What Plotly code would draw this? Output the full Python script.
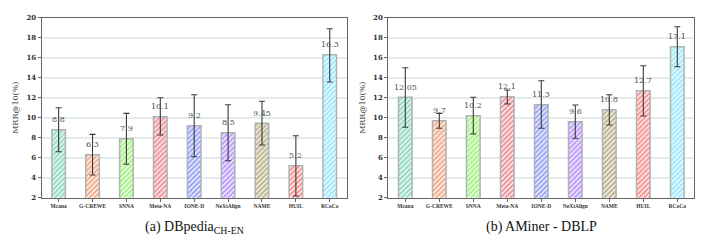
import plotly.graph_objects as go

methods = ["Mcana", "G-CREWE", "SNNA", "Meta-NA", "IONE-D", "NeXtAlign", "NAME", "HUIL", "RCoCo"]
colors = ["#2cb884", "#e85c1c", "#50e810", "#e02a40", "#3a4cf0", "#7a38f8", "#7c6a20", "#f82c2c", "#40d4f8"]

# (a) DBpedia CH-EN
vals_a = [8.8, 6.3, 7.9, 10.1, 9.2, 8.5, 9.45, 5.2, 16.3]
labels_a = ["8.8", "6.3", "7.9", "10.1", "9.2", "8.5", "9.45", "5.2", "16.3"]
upper_a = [11.0, 8.33, 10.43, 12.0, 12.3, 11.3, 11.64, 8.2, 18.9]
lower_a = [6.6, 4.27, 5.34, 8.27, 6.1, 5.7, 7.27, 2.17, 13.57]

# (b) AMiner - DBLP
vals_b = [12.05, 9.7, 10.2, 12.1, 11.3, 9.6, 10.8, 12.7, 17.1]
labels_b = ["12.05", "9.7", "10.2", "12.1", "11.3", "9.6", "10.8", "12.7", "17.1"]
upper_b = [15.0, 10.43, 12.04, 12.77, 13.7, 11.27, 12.3, 15.2, 19.1]
lower_b = [9.04, 8.94, 8.37, 11.37, 8.94, 7.94, 9.27, 10.17, 15.1]

y_ticks = [2, 4, 6, 8, 10, 12, 14, 16, 18, 20]
titles = ["(a) DBpedia<sub>CH-EN</sub>", "(b) AMiner - DBLP"]

W, H = 709, 245
SERIF = "DejaVu Serif"

fig = go.Figure()

panels = [
    (vals_a, labels_a, upper_a, lower_a, "x", "y", (41.7, 346.7)),
    (vals_b, labels_b, upper_b, lower_b, "x2", "y2", (388.3, 694.3)),
]

ytop, ybot = 17.7, 197.7
ydom = [1 - ybot / H, 1 - ytop / H]

for i, (vals, labs, up, lo, xa, ya, (x0, x1)) in enumerate(panels):
    fig.add_trace(go.Bar(
        x=methods, y=vals, xaxis=xa, yaxis=ya, width=0.4,
        base=0,
        marker=dict(
            color="white",
            line=dict(color="#aeb4b4", width=1.5),
            pattern=dict(shape="/", fgcolor=colors, bgcolor="white", size=3.5, solidity=0.65),
        ),
        error_y=dict(
            type="data", symmetric=False,
            array=[u - v for u, v in zip(up, vals)],
            arrayminus=[v - l for v, l in zip(vals, lo)],
            color="#3a3a3a", thickness=1.1, width=3,
        ),
        showlegend=False,
    ))
    for m, v, t in zip(methods, vals, labs):
        fig.add_annotation(x=m, y=v, xref=xa, yref=ya, text=t, showarrow=False,
                           yshift=10, font=dict(family=SERIF, size=8, color="#505050"))
    axsuffix = "" if i == 0 else "2"
    fig.update_layout(**{
        "xaxis" + axsuffix: dict(
            domain=[x0 / W, x1 / W], anchor=ya, automargin=False,
            showline=True, linecolor="#666666", linewidth=1.2, mirror=True,
            ticks="outside", ticklen=3, tickcolor="#666666",
            tickfont=dict(family="Liberation Serif", size=5.5, color="#333333", weight="bold"),
            showgrid=False, fixedrange=True,
        ),
        "yaxis" + axsuffix: dict(
            domain=ydom, anchor=xa, range=[2, 20], tickvals=y_ticks, automargin=False,
            showline=True, linecolor="#666666", linewidth=1.2, mirror=True,
            ticks="outside", ticklen=3, tickcolor="#666666",
            tickfont=dict(family=SERIF, size=7, color="#333333", weight="bold"),
            showgrid=True, gridcolor="#e4ebeb", gridwidth=1.5,
            title=dict(text="MRR@10(%)", font=dict(family=SERIF, size=8, color="#333333"), standoff=6),
            zeroline=False, fixedrange=True,
        ),
    })
    fig.add_annotation(x=(x0 + x1) / 2 / W, y=1 - 227 / H, xref="paper", yref="paper",
                       xanchor="center", yanchor="middle",
                       text=titles[i], showarrow=False,
                       font=dict(family="Liberation Serif", size=14, color="#111111"))

fig.update_layout(
    width=W, height=H,
    margin=dict(l=0, r=0, t=0, b=0),
    paper_bgcolor="white", plot_bgcolor="white",
    bargap=0.6,
)

fig.write_html("out.html", config={"displayModeBar": False},
               post_script="document.body.style.margin='0';")
